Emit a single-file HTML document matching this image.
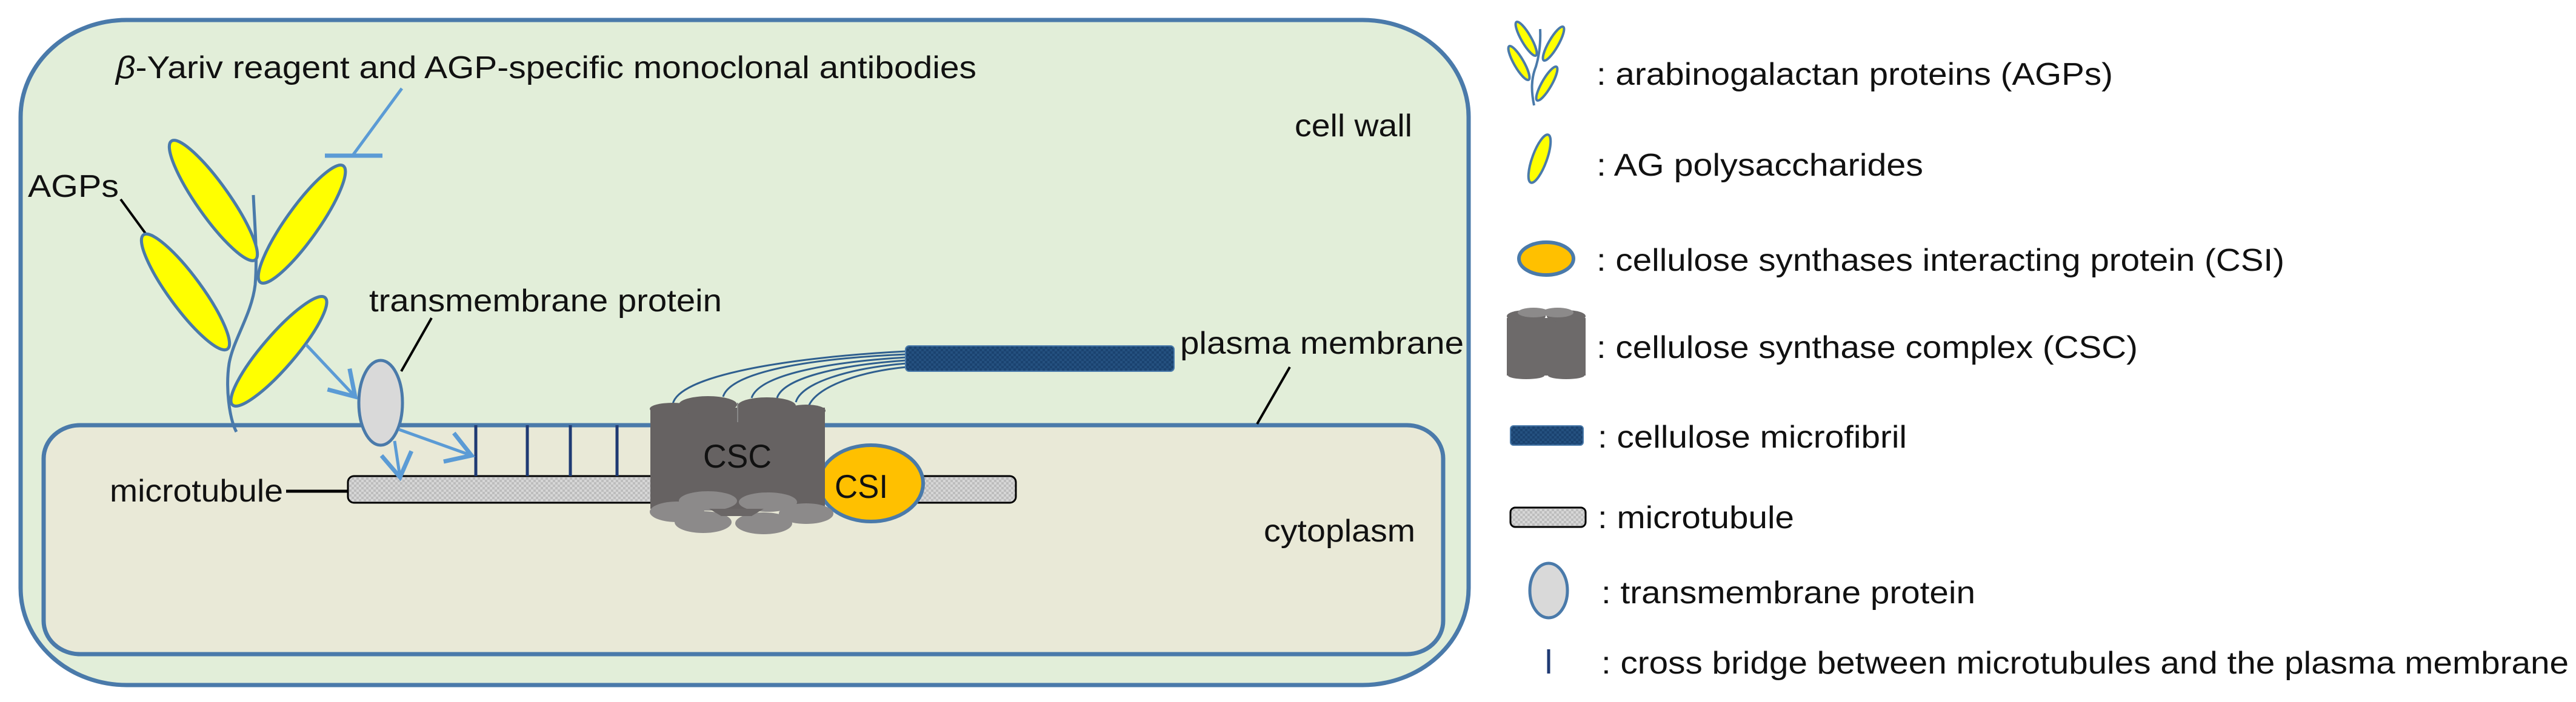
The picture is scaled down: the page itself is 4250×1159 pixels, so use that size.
<!DOCTYPE html>
<html><head><meta charset="utf-8"><style>
html,body{margin:0;padding:0;background:#fff;}
svg{display:block;}
text{font-family:"Liberation Sans",Arial,sans-serif;fill:#111;}
</style></head><body>
<svg width="4250" height="1159" viewBox="0 0 4250 1159" xmlns="http://www.w3.org/2000/svg">
<defs>
<pattern id="mt" width="8" height="8" patternUnits="userSpaceOnUse">
<rect width="8" height="8" fill="#d6d6d6"/><rect width="4" height="4" fill="#bdbdbd"/><rect x="4" y="4" width="4" height="4" fill="#bdbdbd"/>
</pattern>
<pattern id="mf" width="8" height="8" patternUnits="userSpaceOnUse">
<rect width="8" height="8" fill="#24507f"/><rect width="4" height="4" fill="#1b4370"/><rect x="4" y="4" width="4" height="4" fill="#1b4370"/>
</pattern>
<marker id="ah" markerWidth="12" markerHeight="12" refX="9" refY="6" orient="auto" markerUnits="strokeWidth">
<path d="M1,1 L9,6 L1,11" fill="none" stroke="#5b9bd5" stroke-width="1.4"/>
</marker>
</defs>

<!-- cell wall -->
<rect x="34" y="33" width="2389" height="1098" rx="175" ry="160" fill="#e2eed9" stroke="#4a7aaa" stroke-width="7"/>
<!-- cytoplasm -->
<rect x="72" y="702" width="2309" height="378" rx="60" ry="55" fill="#e9e9d7" stroke="#4a7aaa" stroke-width="7"/>

<!-- title and inhibitor -->
<text x="191" y="129" font-size="52" textLength="1420" lengthAdjust="spacingAndGlyphs"><tspan font-style="italic">β</tspan>-Yariv reagent and AGP-specific monoclonal antibodies</text>
<line x1="663" y1="146" x2="583" y2="255" stroke="#5b9bd5" stroke-width="5"/>
<line x1="536" y1="257" x2="631" y2="257" stroke="#5b9bd5" stroke-width="7"/>

<text x="2136" y="225" font-size="52" textLength="194" lengthAdjust="spacingAndGlyphs">cell wall</text>
<text x="46" y="325" font-size="52" textLength="150" lengthAdjust="spacingAndGlyphs">AGPs</text>
<line x1="199" y1="329" x2="242" y2="388" stroke="#000" stroke-width="4"/>

<!-- stem -->
<path d="M390,713 C378,690 372,640 378,600 C385,560 415,520 421,470 C425,420 420,370 418,322" fill="none" stroke="#4a7aaa" stroke-width="5"/>
<!-- leaves -->
<g fill="#ffff00" stroke="#4a7aaa" stroke-width="5">
<ellipse cx="352" cy="331" rx="120" ry="27" transform="rotate(54.8 352 331)"/>
<ellipse cx="498" cy="370" rx="118" ry="27" transform="rotate(125.4 498 370)"/>
<ellipse cx="306" cy="482" rx="117" ry="27" transform="rotate(53.7 306 482)"/>
<ellipse cx="460" cy="580" rx="117" ry="27" transform="rotate(130.7 460 580)"/>
</g>

<!-- transmembrane protein -->
<text x="609" y="514" font-size="52" textLength="582" lengthAdjust="spacingAndGlyphs">transmembrane protein</text>
<line x1="712" y1="525" x2="662" y2="613" stroke="#000" stroke-width="4"/>

<!-- microtubule -->
<rect x="574" y="786" width="1102" height="44" rx="10" fill="url(#mt)" stroke="#000" stroke-width="3"/>
<text x="181" y="828" font-size="52" textLength="286" lengthAdjust="spacingAndGlyphs">microtubule</text>
<line x1="472" y1="811" x2="574" y2="811" stroke="#000" stroke-width="5"/>

<!-- cross bridges -->
<g stroke="#1f3a73" stroke-width="5">
<line x1="785" y1="702" x2="785" y2="786"/><line x1="870" y1="702" x2="870" y2="786"/>
<line x1="941" y1="702" x2="941" y2="786"/><line x1="1018" y1="702" x2="1018" y2="786"/>
</g>

<!-- TM protein ellipse -->
<ellipse cx="628" cy="665" rx="36" ry="70" fill="#d9d9d9" stroke="#4a7aaa" stroke-width="5"/>

<!-- arrows -->
<g stroke="#5b9bd5" stroke-width="5" fill="none" marker-end="url(#ah)">
<line x1="505" y1="569" x2="586" y2="655"/>
<line x1="658" y1="709" x2="778" y2="752"/>
<line x1="651" y1="728" x2="660" y2="788"/>
</g>

<!-- CSI -->
<ellipse cx="1437" cy="798" rx="86" ry="63" fill="#ffc000" stroke="#4a7aaa" stroke-width="6"/>

<!-- strands -->
<g fill="none" stroke="#2f5f8f" stroke-width="3">
<path d="M1110,667 C1120,620 1300,590 1495,580"/>
<path d="M1193,655 C1205,615 1330,592 1495,585"/>
<path d="M1240,657 C1252,620 1360,598 1495,590"/>
<path d="M1282,657 C1292,625 1380,603 1495,595"/>
<path d="M1313,664 C1322,632 1400,608 1495,600"/>
<path d="M1333,674 C1342,640 1415,614 1495,606"/>
</g>
<!-- microfibril -->
<rect x="1494" y="571" width="443" height="42" rx="6" fill="url(#mf)" stroke="#4a7aaa" stroke-width="2"/>

<!-- CSC -->
<g fill="#666262">
<rect x="1073" y="673" width="288" height="167"/>
<ellipse cx="1168" cy="668" rx="48" ry="14"/>
<ellipse cx="1265" cy="670" rx="48" ry="14"/>
<ellipse cx="1110" cy="675" rx="38" ry="10"/>
<ellipse cx="1330" cy="678" rx="32" ry="10"/>
</g>
<line x1="1217" y1="665" x2="1217" y2="697" stroke="#888" stroke-width="2"/>
<g fill="#8c8a8a">
<ellipse cx="1168" cy="827" rx="48" ry="16"/>
<ellipse cx="1267" cy="829" rx="48" ry="16"/>
<ellipse cx="1117" cy="845" rx="45" ry="17"/>
<ellipse cx="1160" cy="862" rx="47" ry="18"/>
<ellipse cx="1260" cy="864" rx="47" ry="18"/>
<ellipse cx="1330" cy="848" rx="45" ry="17"/>
</g>
<path d="M1170,840 L1260,840 L1240,852 L1190,852 Z" fill="#6a6666"/>
<text x="1160" y="772" font-size="55" textLength="113" lengthAdjust="spacingAndGlyphs">CSC</text>
<text x="1377" y="822" font-size="55" textLength="88" lengthAdjust="spacingAndGlyphs">CSI</text>

<!-- plasma membrane label -->
<text x="1947" y="584" font-size="52" textLength="468" lengthAdjust="spacingAndGlyphs">plasma membrane</text>
<line x1="2128" y1="606" x2="2074" y2="700" stroke="#000" stroke-width="4"/>
<text x="2085" y="894" font-size="52" textLength="250" lengthAdjust="spacingAndGlyphs">cytoplasm</text>

<!-- LEGEND -->
<!-- AGP icon -->
<path d="M2531,174 C2526,150 2526,130 2534,110 C2540,90 2542,70 2541,48" fill="none" stroke="#4a7aaa" stroke-width="4"/>
<g fill="#ffff00" stroke="#4a7aaa" stroke-width="4">
<ellipse cx="2518" cy="64" rx="32" ry="8" transform="rotate(60 2518 64)"/>
<ellipse cx="2563" cy="72" rx="32" ry="8" transform="rotate(120 2563 72)"/>
<ellipse cx="2506" cy="104" rx="32" ry="8" transform="rotate(60 2506 104)"/>
<ellipse cx="2552" cy="138" rx="32" ry="8" transform="rotate(120 2552 138)"/>
</g>
<text x="2634" y="140" font-size="52" textLength="852" lengthAdjust="spacingAndGlyphs">: arabinogalactan proteins (AGPs)</text>

<ellipse cx="2540" cy="262" rx="42" ry="12" transform="rotate(110 2540 262)" fill="#ffff00" stroke="#4a7aaa" stroke-width="4"/>
<text x="2634" y="290" font-size="52" textLength="539" lengthAdjust="spacingAndGlyphs">:  AG polysaccharides</text>

<ellipse cx="2551" cy="427" rx="45" ry="27" fill="#ffc000" stroke="#4a7aaa" stroke-width="6"/>
<text x="2634" y="447" font-size="52" textLength="1135" lengthAdjust="spacingAndGlyphs">: cellulose synthases interacting protein (CSI)</text>

<g fill="#6d6a6a">
<rect x="2486" y="525" width="130" height="95"/>
<ellipse cx="2518" cy="522" rx="32" ry="10"/><ellipse cx="2584" cy="522" rx="32" ry="10"/>
<ellipse cx="2530" cy="516" rx="26" ry="8" fill="#8c8a8a"/><ellipse cx="2570" cy="516" rx="26" ry="8" fill="#8c8a8a"/>
<ellipse cx="2518" cy="620" rx="30" ry="6"/><ellipse cx="2584" cy="620" rx="30" ry="6"/>
</g>
<text x="2634" y="591" font-size="52" textLength="893" lengthAdjust="spacingAndGlyphs">: cellulose synthase complex (CSC)</text>

<rect x="2492" y="703" width="120" height="32" rx="5" fill="url(#mf)" stroke="#4a7aaa" stroke-width="2"/>
<text x="2636" y="739" font-size="52" textLength="510" lengthAdjust="spacingAndGlyphs">: cellulose microfibril</text>

<rect x="2492" y="838" width="124" height="32" rx="8" fill="url(#mt)" stroke="#000" stroke-width="3"/>
<text x="2636" y="872" font-size="52" textLength="324" lengthAdjust="spacingAndGlyphs">: microtubule</text>

<ellipse cx="2555" cy="975" rx="31" ry="45" fill="#d9d9d9" stroke="#4a7aaa" stroke-width="5"/>
<text x="2642" y="996" font-size="52" textLength="617" lengthAdjust="spacingAndGlyphs">: transmembrane protein</text>

<line x1="2555" y1="1072" x2="2555" y2="1112" stroke="#1f3a73" stroke-width="5"/>
<text x="2642" y="1112" font-size="52" textLength="1596" lengthAdjust="spacingAndGlyphs">: cross bridge between microtubules and the plasma membrane</text>
</svg>
</body></html>
